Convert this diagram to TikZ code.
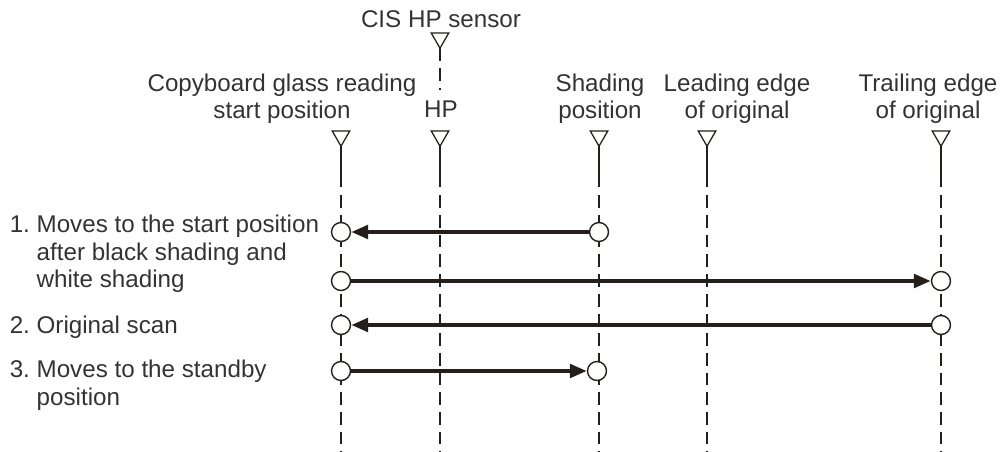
\documentclass[tikz,border=0pt]{standalone}
\usepackage{fontspec}
\setmainfont{Liberation Sans}
\usetikzlibrary{arrows.meta,shapes.geometric}
\definecolor{ink}{HTML}{231F1C}
\definecolor{txt}{HTML}{333333}
\tikzset{
	sensortri/.style={regular polygon, regular polygon sides=3, shape border rotate=180, draw=ink, line width=0.9pt, fill=white, inner sep=0pt, outer sep=0pt, minimum size=14.5pt},
	stem/.style={draw=ink, line width=0.9pt},
	guide/.style={draw=ink, line width=0.9pt, dash pattern=on 9pt off 5pt},
	spot/.style={circle, draw=ink, line width=1pt, fill=white, inner sep=0pt, minimum size=13.5pt},
	move/.style={draw=ink, line width=2.8pt, -{Triangle[length=12pt,width=9.5pt]}},
	lbl/.style={text=txt, inner sep=0pt, font=\fontsize{17.2}{19.6}\selectfont, align=center}
}
\begin{document}
\begin{tikzpicture}[x=0.025cm, y=-0.025cm]
		\useasboundingbox (0,0) rectangle (1003,452);
		% labels on top
		\node[lbl, anchor=north] (sensorlabel) at (441,10.5) {CIS HP sensor};
		\node[lbl, anchor=north] (startlabel) at (282,73.5) {Copyboard glass reading\\start position};
		\node[lbl, anchor=north] (hplabel) at (441,100.8) {HP};
		\node[lbl, anchor=north] (shadlabel) at (600,73.5) {Shading\\position};
		\node[lbl, anchor=north] (leadlabel) at (737,73.5) {Leading edge\\of original};
		\node[lbl, anchor=north] (traillabel) at (928,73.5) {Trailing edge\\of original};
		% markers and guide lines
		\node[sensortri] (sensormark) at (440,38) {};
		\coordinate (sensorfoot) at (440,90);
		\draw[guide] (sensormark.corner 1) -- (sensorfoot);
		\node[sensortri] (startmark) at (341,136) {};
		\coordinate (startbreak) at (341,187);
		\coordinate (startfoot) at (341,452);
		\draw[stem] (startmark.corner 1) -- (startbreak);
		\draw[guide] ([yshift=-6pt]startbreak) -- (startfoot);
		\node[sensortri] (hpmark) at (440,136) {};
		\coordinate (hpbreak) at (440,187);
		\coordinate (hpfoot) at (440,452);
		\draw[stem] (hpmark.corner 1) -- (hpbreak);
		\draw[guide] ([yshift=-6pt]hpbreak) -- (hpfoot);
		\node[sensortri] (shadmark) at (599,136) {};
		\coordinate (shadbreak) at (599,187);
		\coordinate (shadfoot) at (599,452);
		\draw[stem] (shadmark.corner 1) -- (shadbreak);
		\draw[guide] ([yshift=-6pt]shadbreak) -- (shadfoot);
		\node[sensortri] (leadmark) at (707,136) {};
		\coordinate (leadbreak) at (707,187);
		\coordinate (leadfoot) at (707,452);
		\draw[stem] (leadmark.corner 1) -- (leadbreak);
		\draw[guide] ([yshift=-6pt]leadbreak) -- (leadfoot);
		\node[sensortri] (trailmark) at (941,136) {};
		\coordinate (trailbreak) at (941,187);
		\coordinate (trailfoot) at (941,452);
		\draw[stem] (trailmark.corner 1) -- (trailbreak);
		\draw[guide] ([yshift=-6pt]trailbreak) -- (trailfoot);
		% steps
		\node[lbl, anchor=north west, align=left] (step1) at (9.5,215) {1.\ Moves to the start position\\\hphantom{1.\ }after black shading and\\\hphantom{1.\ }white shading};
		\node[lbl, anchor=north west, align=left] (step2) at (9.5,316) {2.\ Original scan};
		\node[lbl, anchor=north west, align=left] (step3) at (9.5,360) {3.\ Moves to the standby\\\hphantom{3.\ }position};
		\node[spot] (start1) at (341,232) {};
		\node[spot] (shad1) at (599,232) {};
		\node[spot] (start2) at (341,281) {};
		\node[spot] (trail2) at (941,281) {};
		\node[spot] (start3) at (341,325) {};
		\node[spot] (trail3) at (941,325) {};
		\node[spot] (start4) at (341,371) {};
		\node[spot] (shad4) at (597,371) {};
		\draw[move] (shad1) -- (start1);
		\draw[move] (start2) -- (trail2);
		\draw[move] (trail3) -- (start3);
		\draw[move] (start4) -- (shad4);
	\end{tikzpicture}
\end{document}
